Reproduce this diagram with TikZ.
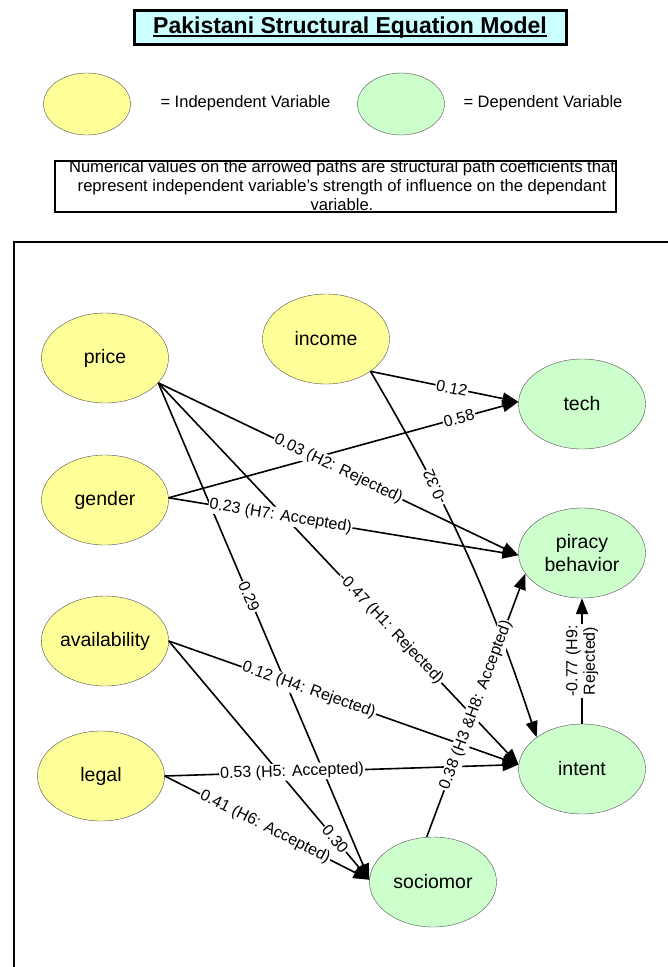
\documentclass[tikz,border=0pt]{standalone}
\usepackage{fontspec}
\setmainfont{Liberation Sans}
\usetikzlibrary{shapes.geometric,arrows.meta}
\definecolor{indepfill}{HTML}{FFFF99}
\definecolor{depfill}{HTML}{CCFFCC}
\definecolor{titlefill}{HTML}{CCFFFF}
\definecolor{rimgray}{HTML}{505050}
\newcommand{\heavyunder}[1]{\setbox0\hbox{#1}\rlap{\rule[-3.5pt]{\wd0}{1.6pt}}\box0}
\begin{document}
\begin{tikzpicture}[x=1pt, y=-1pt,
        indep/.style={ellipse, draw=rimgray, fill=indepfill, minimum width=127pt, minimum height=90pt,
            inner sep=0pt, align=center, font=\fontsize{19.5}{23}\selectfont},
        dep/.style={indep, fill=depfill},
        coef/.style={-{Triangle[length=16pt,width=12pt]}, line width=1.6pt},
        lbl/.style={fill=white, inner sep=1pt, sloped, font=\fontsize{16}{17.5}\selectfont},
        keytext/.style={anchor=west, font=\fontsize{16.5}{18}\selectfont}]
        \useasboundingbox (0,0) rectangle (667,967);
        % heading and key
        \node[draw, line width=3pt, fill=titlefill, minimum width=432pt, minimum height=34pt,
            font=\fontsize{23}{26}\selectfont\bfseries] at (350, 27.5) (title) {\heavyunder{Pakistani Structural Equation Model}};
        \node[indep, minimum width=87pt, minimum height=62pt] at ( 87, 104) (keyindep) {};
        \node[keytext] at (157, 103) (keyindeptext) {= Independent Variable};
        \node[dep, minimum width=87pt, minimum height=62pt] at (401, 104) (keydep) {};
        \node[keytext] at (460, 103) (keydeptext) {= Dependent Variable};
        \node[draw, line width=1.5pt, minimum width=561pt, minimum height=51pt] at (335.5, 186.5) (notebox) {};
        \node[align=center, inner sep=0pt, font=\fontsize{16.6}{19}\selectfont] at (342, 186) (note)
            {Numerical values on the arrowed paths are structural path coefficients that\\
             represent independent variable’s strength of influence on the dependant\\
             variable.};
        \draw[line width=2.5pt] (670, 242) -- (14, 242) -- (14, 970);
        % variables
        \node[indep] at (105, 358) (price) {price};
        \node[indep] at (326, 339) (income) {income};
        \node[indep] at (105, 500) (gender) {gender};
        \node[indep] at (105, 641) (availability) {availability};
        \node[indep] at (101, 776) (legal) {legal};
        \node[dep] at (582, 404) (tech) {tech};
        \node[dep] at (582, 553) (piracy) {piracy\\behavior};
        \node[dep] at (582, 769) (intent) {intent};
        \node[dep] at (433, 882) (sociomor) {sociomor};
        % paths
        \draw[coef] (income.-36) -- (tech.178) node[lbl, pos=0.55] {0.12};
        \draw[coef] (gender.2) -- (tech.178) node[lbl, pos=0.83] {0.58};
        \draw[coef] (price.-25) -- (sociomor.178) node[lbl, pos=0.43] {0.29};
        \draw[coef] (price.-25) -- (intent.176) node[lbl, pos=0.645] {-0.47 (H1: Rejected)};
        \draw[coef] (income.-36) to[bend left=6] node[lbl, sloped=false, rotate=114, pos=0.315] {-0.32} (intent.145);
        \draw[coef] (availability.east) -- (sociomor.178) node[lbl, pos=0.83] {0.30};
        \draw[coef] (legal.east) -- (sociomor.178) node[lbl, pos=0.49] {0.41 (H6: Accepted)};
        \draw[coef] (price.-25) -- (piracy.182) node[lbl, pos=0.5] {0.03 (H2: Rejected)};
        \draw[coef] (gender.2) -- (piracy.182) node[lbl, pos=0.32] {0.23 (H7: Accepted)};
        \draw[coef] (availability.east) -- (intent.176) node[lbl, pos=0.4] {0.12 (H4: Rejected)};
        \draw[coef] (legal.east) -- (intent.176) node[lbl, pos=0.36] {0.53 (H5: Accepted)};
        \draw[coef] (intent.north) -- (piracy.south) node[lbl, pos=0.5, align=center] {-0.77 (H9:\\Rejected)};
        \draw[coef] (sociomor.98) -- (piracy.200) node[lbl, pos=0.5] {0.38 (H3 \&H8: Accepted)};
\end{tikzpicture}
\end{document}
